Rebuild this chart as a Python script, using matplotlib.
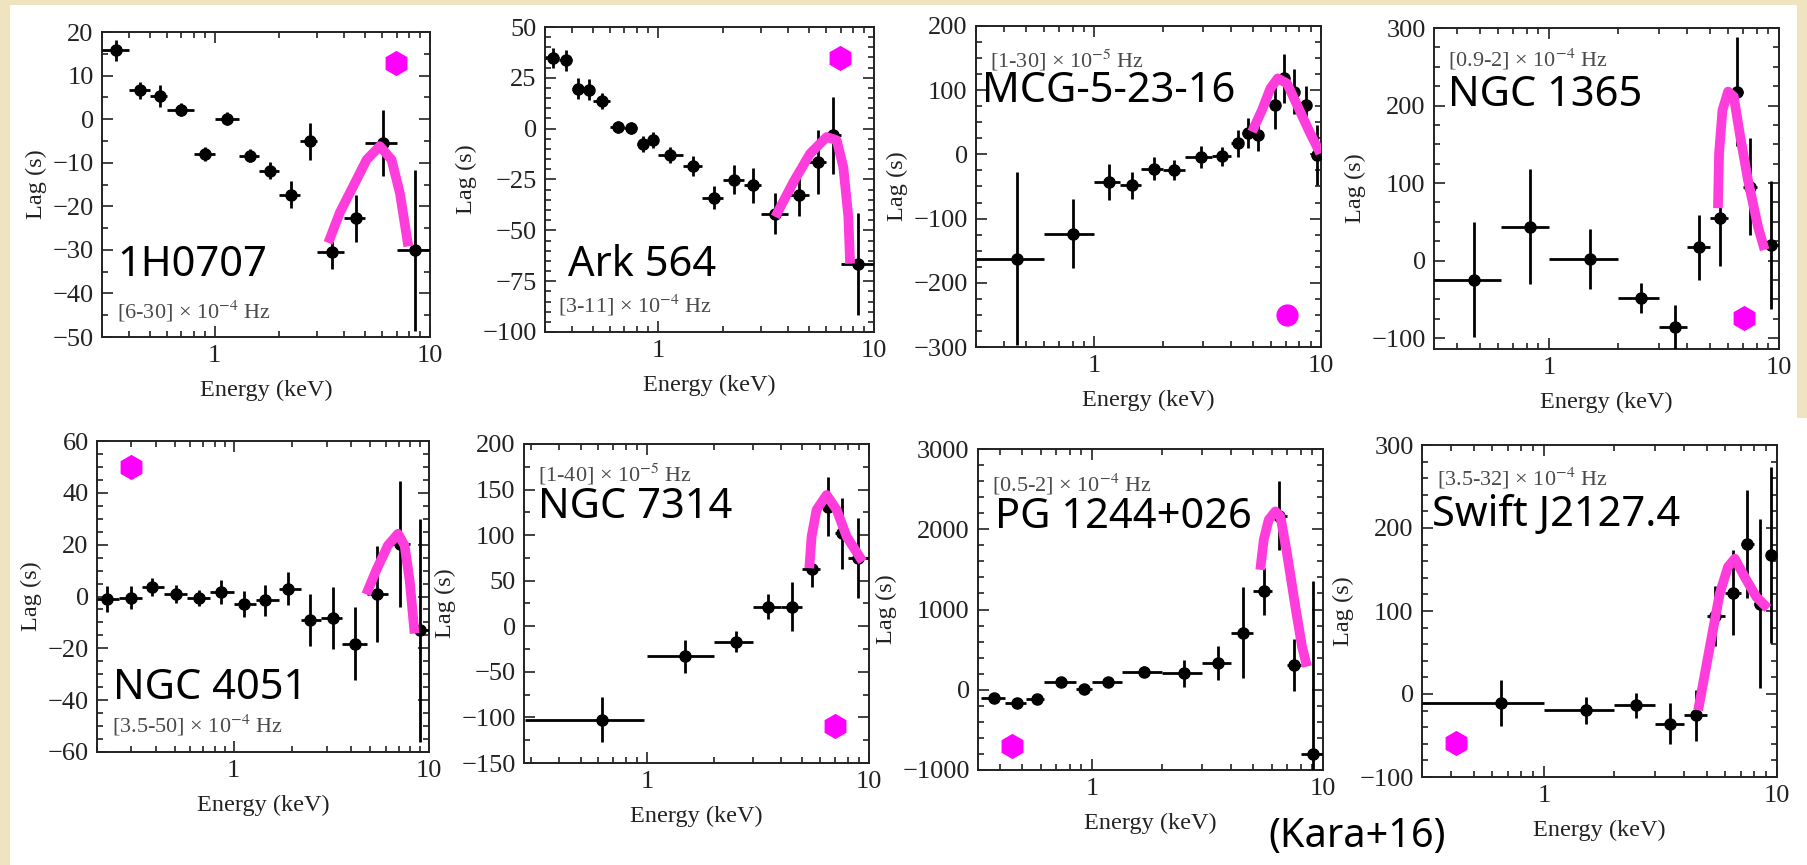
import numpy as np
import matplotlib.pyplot as plt
from matplotlib.ticker import FixedLocator, FixedFormatter, LogLocator, NullFormatter, MultipleLocator, AutoMinorLocator
from matplotlib.patches import Rectangle

plt.rcParams['mathtext.fontset'] = 'stix'
plt.rcParams['font.family'] = ['Liberation Serif', 'DejaVu Serif']

W, H = 1807, 865

# --- données (Kara+16) ---
# 1H0707
h0707_E   = [0.349, 0.451, 0.555, 0.70, 0.90, 1.145, 1.455, 1.815, 2.26, 2.77, 3.49, 4.51, 6.03, 8.51]
h0707_lo  = [0.30, 0.40, 0.50, 0.60, 0.80, 1.0, 1.3, 1.6, 2.0, 2.5, 3.0, 4.0, 5.0, 7.0]
h0707_hi  = [0.40, 0.50, 0.60, 0.80, 1.0, 1.3, 1.6, 2.0, 2.5, 3.0, 4.0, 5.0, 7.0, 10.0]
h0707_lag = [15.8, 6.6, 5.4, 2.2, -8.0, 0.1, -8.4, -11.8, -17.3, -5.1, -30.5, -22.8, -5.5, -30.1]
h0707_err = [2.4, 2.0, 2.5, 1.5, 1.5, 1.5, 1.5, 2.0, 3.0, 4.3, 4.0, 5.5, 7.6, 18.5]
h0707_cE  = [3.37, 3.81, 4.40, 5.08, 5.85, 6.63, 7.25, 7.93]
h0707_cL  = [-28.4, -21.5, -15.4, -9.3, -6.2, -9.3, -17.0, -29.2]

# Ark 564
ark_E   = [0.327, 0.377, 0.427, 0.478, 0.551, 0.651, 0.75, 0.853, 0.948, 1.14, 1.45, 1.81, 2.24, 2.75, 3.49, 4.50, 5.49, 6.49, 8.47]
ark_lo  = [0.30, 0.35, 0.40, 0.45, 0.50, 0.60, 0.70, 0.80, 0.90, 1.0, 1.3, 1.6, 2.0, 2.5, 3.0, 4.0, 5.0, 6.0, 7.0]
ark_hi  = [0.35, 0.40, 0.45, 0.50, 0.60, 0.70, 0.80, 0.90, 1.0, 1.3, 1.6, 2.0, 2.5, 3.0, 4.0, 5.0, 6.0, 7.0, 10.0]
ark_lag = [34.9, 33.6, 19.7, 19.2, 13.6, 0.8, 0.5, -7.4, -5.4, -12.8, -18.5, -33.9, -25.1, -27.9, -41.8, -32.8, -16.4, -3.3, -66.4]
ark_err = [5, 5, 5, 5, 4, 3, 3, 4, 4, 4, 5, 5.5, 7, 8.5, 10, 10, 15.6, 19, 25]
ark_cE  = [3.49, 4.24, 5.06, 6.04, 6.72, 7.21, 7.61, 7.75]
ark_cL  = [-43.4, -26.2, -12.3, -4.1, -5.7, -18.9, -43.4, -66.4]

# MCG-5-23-16
mcg_E   = [0.453, 0.805, 1.157, 1.466, 1.827, 2.25, 2.94, 3.66, 4.29, 4.75, 5.26, 6.29, 6.85, 7.57, 8.61, 9.6]
mcg_lo  = [0.30, 0.60, 1.0, 1.3, 1.6, 2.0, 2.5, 3.3, 4.0, 4.5, 5.0, 6.0, 6.5, 7.2, 8.0, 9.0]
mcg_hi  = [0.60, 1.0, 1.3, 1.6, 2.0, 2.5, 3.3, 4.0, 4.5, 5.0, 5.5, 6.5, 7.2, 8.0, 9.0, 10.0]
mcg_lag = [-162.3, -123.3, -42.7, -47.9, -22.0, -24.5, -3.7, -2.7, 17.0, 33.7, 30.0, 76.8, 118.4, 97.6, 76.8, -1.1]
mcg_err = [135, 53.5, 28, 21, 18, 15, 17, 15, 21, 23, 25, 38, 38, 35, 30, 47]
mcg_cE  = [4.96, 5.49, 5.98, 6.44, 7.08, 7.97, 8.97, 9.93]
mcg_cL  = [35.2, 69, 102.8, 118.4, 110.6, 71.6, 32.6, 1.5]

# NGC 1365
n1365_E   = [0.472, 0.827, 1.506, 2.51, 3.52, 4.50, 5.53, 6.58, 7.46, 9.26]
n1365_lo  = [0.30, 0.62, 1.0, 2.0, 3.0, 4.0, 5.0, 6.0, 7.0, 8.5]
n1365_hi  = [0.62, 1.0, 2.0, 3.0, 4.0, 5.0, 6.0, 7.0, 8.0, 10.0]
n1365_lag = [-24.8, 43.9, 1.8, -48.4, -85.8, 17.3, 54.7, 218, 95.5, 20.3]
n1365_err = [74, 74, 39, 19, 28, 42, 62, 70, 62, 83]
n1365_cE  = [5.43, 5.49, 5.68, 6.01, 6.36, 6.75, 7.33, 8.10, 8.66]
n1365_cL  = [67.6, 138.5, 194, 218, 211.5, 164, 104, 44, 13.9]

# NGC 4051
n4051_E   = [0.226, 0.297, 0.384, 0.51, 0.662, 0.861, 1.125, 1.453, 1.90, 2.47, 3.21, 4.19, 5.43, 7.07, 9.03]
n4051_lo  = [0.20, 0.26, 0.34, 0.44, 0.58, 0.76, 1.0, 1.3, 1.7, 2.2, 2.8, 3.6, 4.8, 6.2, 8.0]
n4051_hi  = [0.26, 0.34, 0.44, 0.58, 0.76, 1.0, 1.3, 1.7, 2.2, 2.8, 3.6, 4.8, 6.2, 8.0, 10.0]
n4051_lag = [-0.8, -0.5, 3.7, 1.1, -0.5, 1.7, -2.8, -1.5, 3.0, -9.2, -8.2, -18.2, 0.8, 20.4, -13.0]
n4051_err = [5, 4.5, 3.5, 3.5, 3, 4.5, 5, 6, 6.4, 10, 12, 14, 18.5, 24.3, 43]
n4051_cE  = [4.77, 5.37, 6.16, 6.94, 7.50, 7.96, 8.44]
n4051_cL  = [0.8, 10.1, 19.7, 24.2, 19.7, 6.2, -14.3]

# NGC 7314
n7314_E   = [0.627, 1.48, 2.50, 3.51, 4.48, 5.51, 6.51, 7.53, 8.95]
n7314_lo  = [0.28, 1.0, 2.0, 3.0, 4.0, 5.0, 6.0, 7.0, 8.0]
n7314_hi  = [0.97, 2.0, 3.0, 4.0, 5.0, 6.0, 7.0, 8.0, 10.0]
n7314_lag = [-102.5, -33.1, -16.7, 21.6, 21.6, 62.6, 131.3, 102, 74.7]
n7314_err = [25, 18, 11.5, 14, 27, 19, 32, 39, 44]
n7314_cE  = [5.38, 5.51, 5.80, 6.44, 7.15, 7.93, 9.36]
n7314_cL  = [63.7, 98.4, 127.7, 144.1, 127.7, 98.4, 71]

# PG 1244+026
pg_E   = [0.375, 0.473, 0.578, 0.734, 0.927, 1.173, 1.673, 2.49, 3.50, 4.50, 5.54, 6.43, 7.46, 9.05]
pg_lo  = [0.33, 0.42, 0.52, 0.62, 0.85, 1.0, 1.35, 2.0, 3.0, 4.0, 5.0, 6.0, 7.0, 8.0]
pg_hi  = [0.42, 0.52, 0.62, 0.85, 1.0, 1.35, 2.0, 3.0, 4.0, 5.0, 6.0, 7.0, 8.0, 10.0]
pg_lag = [-106, -168, -118, 102, 6, 94, 227, 206, 331, 713, 1225, 2170, 310, -800]
pg_err = [50, 50, 50, 50, 50, 60, 70, 166, 208, 572, 290, 427, 320, 2150]
pg_cE  = [5.35, 5.54, 5.82, 6.22, 6.54, 6.98, 7.59, 8.11, 8.53]
pg_cL  = [1495, 1869, 2118, 2222, 2160, 1703, 1037, 539, 289]

# Swift J2127.4
sw_E   = [0.652, 1.51, 2.49, 3.47, 4.51, 5.41, 6.48, 7.44, 8.43, 9.45]
sw_lo  = [0.30, 1.0, 2.0, 3.0, 4.0, 5.0, 6.0, 7.0, 8.0, 9.0]
sw_hi  = [1.0, 2.0, 3.0, 4.0, 5.0, 6.0, 7.0, 8.0, 9.0, 10.0]
sw_lag = [-10.8, -19.6, -13.6, -35.7, -25.6, 93.8, 121.9, 180.6, 109, 167.3]
sw_err = [27.5, 16, 15, 25, 30.5, 36, 51, 65, 101.5, 106]
sw_cE  = [4.59, 5.15, 5.68, 6.16, 6.59, 7.27, 8.15, 9.15]
sw_cL  = [-19.6, 56.8, 121, 153, 163, 141, 117, 103]

names = ["1H0707", "Ark 564", "MCG-5-23-16", "NGC 1365",
         "NGC 4051", "NGC 7314", "PG 1244+026", "Swift J2127.4"]
freqs = [r"[6-30] × 10$^{-4}$ Hz", r"[3-11] × 10$^{-4}$ Hz", r"[1-30] × 10$^{-5}$ Hz",
         r"[0.9-2] × 10$^{-4}$ Hz", r"[3.5-50] × 10$^{-4}$ Hz", r"[1-40] × 10$^{-5}$ Hz",
         r"[0.5-2] × 10$^{-4}$ Hz", r"[3.5-32] × 10$^{-4}$ Hz"]
# symbole magenta (position énergie, lag)
sym_E   = [6.98, 6.96, 7.08, 7.05, 0.297, 7.03, 0.451, 0.420]
sym_lag = [12.9, 34.9, -250.6, -74.2, 50, -109.8, -701, -59]
sym_mk  = ['h', 'h', 'o', 'h', 'h', 'h', 'h', 'h']

data = [
    (h0707_E, h0707_lo, h0707_hi, h0707_lag, h0707_err, h0707_cE, h0707_cL),
    (ark_E, ark_lo, ark_hi, ark_lag, ark_err, ark_cE, ark_cL),
    (mcg_E, mcg_lo, mcg_hi, mcg_lag, mcg_err, mcg_cE, mcg_cL),
    (n1365_E, n1365_lo, n1365_hi, n1365_lag, n1365_err, n1365_cE, n1365_cL),
    (n4051_E, n4051_lo, n4051_hi, n4051_lag, n4051_err, n4051_cE, n4051_cL),
    (n7314_E, n7314_lo, n7314_hi, n7314_lag, n7314_err, n7314_cE, n7314_cL),
    (pg_E, pg_lo, pg_hi, pg_lag, pg_err, pg_cE, pg_cL),
    (sw_E, sw_lo, sw_hi, sw_lag, sw_err, sw_cE, sw_cL),
]

# --- mise en page (pixels) ---
boxes = [(102, 32, 430, 337), (545, 27, 874, 332), (976, 26, 1321, 347), (1434, 28, 1779, 349),
         (97, 441, 429, 752), (524, 444, 869, 763), (978, 449, 1323, 770), (1422, 445, 1777, 777)]
xmins = [0.30, 0.30, 0.30, 0.317, 0.20, 0.278, 0.321, 0.30]
ylims = [(-50, 20), (-100, 50), (-300, 200), (-114, 300), (-60, 60), (-150, 200), (-1000, 3000), (-100, 300)]
ymaj = [10, 25, 100, 100, 20, 50, 1000, 100]
ymin_div = [2, 5, 4, 4, 4, 2, 5, 5]
name_pos = [(117, 265), (568, 265), (982, 91), (1448, 95), (113, 688), (538, 507), (995, 517), (1432, 515)]
freq_pos = [(117, 311), (558, 305), (990, 60), (1448, 59), (112, 725), (538, 474), (992, 484), (1437, 478)]

sans = ['Noto Sans', 'DejaVu Sans']
pink = '#ff3cdc'
ink = '#222222'

fig = plt.figure(figsize=(W / 100, H / 100), dpi=100)
fig.patch.set_facecolor('#efe4bf')
fig.add_artist(Rectangle((10 / W, 0), (1797 - 10) / W, 1 - 5 / H, transform=fig.transFigure,
                         facecolor='white', edgecolor='none', zorder=-10))
fig.add_artist(Rectangle((10 / W, 0), 1 - 10 / W, 1 - 418 / H, transform=fig.transFigure,
                         facecolor='white', edgecolor='none', zorder=-10))

for i, (E, lo, hi, lag, err, cE, cL) in enumerate(data):
    x0, y0, x1, y1 = boxes[i]
    ax = fig.add_axes([x0 / W, 1 - y1 / H, (x1 - x0) / W, (y1 - y0) / H])
    E = np.array(E)
    xerr = [E - np.array(lo), np.array(hi) - E]
    ax.errorbar(E, lag, xerr=xerr, yerr=err, fmt='o', color='k', ms=8,
                elinewidth=2, capsize=0, zorder=3)
    ax.plot(cE, cL, color=pink, lw=7, solid_capstyle='butt', solid_joinstyle='round', zorder=5)
    ax.plot(sym_E[i], sym_lag[i], marker=sym_mk[i], ms=17 if sym_mk[i] == 'h' else 15,
            color='#ff00ff', ls='none', zorder=6)

    ax.set_xscale('log')
    ax.set_xlim(xmins[i], 10)
    ax.set_ylim(*ylims[i])
    ax.xaxis.set_major_locator(FixedLocator([1, 10]))
    ax.xaxis.set_major_formatter(FixedFormatter(['1', '10']))
    ax.xaxis.set_minor_locator(LogLocator(base=10, subs=np.arange(2, 10)))
    ax.xaxis.set_minor_formatter(NullFormatter())
    ax.yaxis.set_major_locator(MultipleLocator(ymaj[i]))
    ax.yaxis.set_minor_locator(AutoMinorLocator(ymin_div[i]))
    ax.tick_params(which='both', direction='in', top=True, right=True, width=1.2,
                   labelsize=19, pad=6, colors=ink)
    ax.tick_params(which='major', length=8)
    ax.tick_params(which='minor', length=4.5)
    for sp in ax.spines.values():
        sp.set_linewidth(1.4)
        sp.set_color(ink)
    ax.set_xlabel('Energy (keV)', fontsize=17.5, color=ink, labelpad=9)
    ax.set_ylabel('Lag (s)', fontsize=17.5, color=ink, labelpad=4)

    nx, ny = name_pos[i]
    fig.text(nx / W, 1 - ny / H, names[i], family=sans, fontsize=30, color='black',
             ha='left', va='center', zorder=10)
    fx, fy = freq_pos[i]
    fig.text(fx / W, 1 - fy / H, freqs[i], fontsize=16, color='#4a4a4a',
             ha='left', va='center', zorder=10)

fig.text(1268 / W, 1 - 837 / H, '(Kara+16)', family=sans, fontsize=28.5, color='black',
         ha='left', va='center')

plt.savefig('out.png', dpi=100, facecolor=fig.get_facecolor())
